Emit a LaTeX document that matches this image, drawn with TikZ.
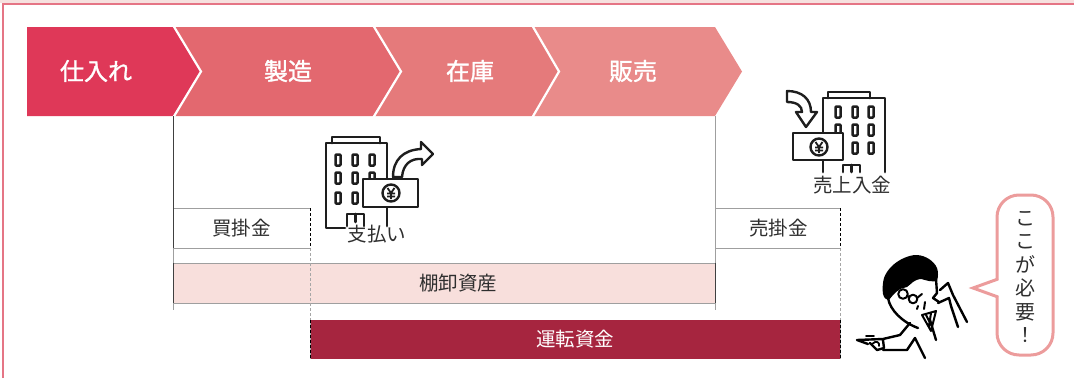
\documentclass[tikz,border=0pt]{standalone}
\usepackage{fontspec}
\newfontfamily\jp{Noto Sans CJK JP}
\newfontfamily\jpb{Noto Sans CJK JP}[FakeBold=1.3]
\definecolor{stageA}{HTML}{DF3858}
\definecolor{stageB}{HTML}{E3686F}
\definecolor{stageC}{HTML}{E57A7B}
\definecolor{stageD}{HTML}{E98B8A}
\definecolor{invfill}{HTML}{F8DFDC}
\definecolor{capital}{HTML}{A6253F}
\definecolor{bubble}{HTML}{EC9C9C}
\definecolor{frame}{HTML}{E57585}
\definecolor{framebg}{HTML}{F6E1DF}
\definecolor{ink}{HTML}{1E1E1E}
\definecolor{txt}{HTML}{2E2E2E}
\begin{document}
\begin{tikzpicture}[x=1pt,y=-1pt,
  stagelbl/.style={font=\jpb\fontsize{24}{28}\selectfont, text=white, inner sep=0pt},
  lbl/.style={font=\jp\fontsize{19.5}{22}\selectfont, text=txt, inner sep=0pt},
  barbox/.style={inner sep=0pt, outer sep=0pt},
  edge/.style={draw=gray!75, line width=1pt},
  darkedge/.style={draw=black!75, line width=1pt},
  dashedge/.style={draw=gray!70, line width=1pt, dashed, dash pattern=on 3pt off 2pt},
  darkdash/.style={draw=black, line width=1pt, dash pattern=on 3pt off 2pt},
  icon/.style={draw=ink, line width=2.8pt, line join=round, line cap=round},
  win/.style={draw=ink, line width=2.5pt, rounded corners=0.8pt},
  fig/.style={draw=black, line width=2.4pt, line cap=round, line join=round}]
\useasboundingbox (0,0) rectangle (1074,378);

% frame
\fill[framebg] (0,0) rectangle (1074,3);
\draw[frame, line width=1.5pt] (3,378) -- (3,4) -- (1074,4);

% process chevrons
\fill[stageA] (27,27) -- (173,27) -- (201,71.5) -- (173,116) -- (27,116) -- cycle;
\fill[stageB] (173,27) -- (373,27) -- (401,71.5) -- (373,116) -- (173,116) -- (201,71.5) -- cycle;
\fill[stageC] (373,27) -- (532,27) -- (559,71.5) -- (532,116) -- (373,116) -- (401,71.5) -- cycle;
\fill[stageD] (532,27) -- (715,27) -- (742,71.5) -- (715,116) -- (532,116) -- (559,71.5) -- cycle;
\draw[white, line width=2.2pt] (173,25) -- (201,71.5) -- (173,118);
\draw[white, line width=2.2pt] (373,25) -- (401,71.5) -- (373,118);
\draw[white, line width=2.2pt] (532,25) -- (559,71.5) -- (532,118);

\node[stagelbl] (shiire) at (96,71) {仕入れ};
\node[stagelbl] (seizo) at (288,71) {製造};
\node[stagelbl] (zaiko) at (470,71) {在庫};
\node[stagelbl] (hanbai) at (633,71) {販売};

% guide coordinates
\coordinate (g1top) at (173,116);
\coordinate (g1bot) at (173,310);
\coordinate (g2top) at (715,116);
\coordinate (g2bot) at (715,310);
\coordinate (d1top) at (310,208);
\coordinate (d1bot) at (310,359);
\coordinate (d2top) at (840.5,208);
\coordinate (d2bot) at (840.5,359);

% inventory bar
\node[barbox, fill=invfill, minimum width=542pt, minimum height=40pt,
      label={[lbl, xshift=14pt]center:棚卸資産}] (tana) at (444,283) {};
\draw[edge] (tana.north west) -- (tana.north east);
\draw[edge] (tana.south west) -- (tana.south east);

% working capital bar
\node[barbox, fill=capital, minimum width=530pt, minimum height=39pt,
      font=\jp\fontsize{19.5}{22}\selectfont, text=white] (unten) at (575.25,339.5) {運転資金};

% payables / receivables boxes
\node[barbox, fill=white, minimum width=137pt, minimum height=40pt, lbl] (kai) at (241.5,228) {買掛金};
\node[barbox, fill=white, minimum width=124.5pt, minimum height=40pt, lbl] (uri) at (778.25,228) {売掛金};
\draw[edge] (kai.north west) -- (kai.north east);
\draw[edge] (kai.south west) -- (kai.south east);
\draw[edge] (uri.north west) -- (uri.north east);
\draw[edge] (uri.south west) -- (uri.south east);

% vertical guides
\draw[edge] (g1top) -- (g1bot);
\draw[darkedge] (g1top) -- (kai.north west);
\draw[darkedge] (kai.north west) -- (kai.south west);
\draw[darkedge] (tana.north west) -- (tana.south west);
\draw[edge] (g2top) -- (g2bot);
\draw[darkedge] (tana.north east) -- (tana.south east);
\draw[dashedge] (d1top) -- (d1bot);
\draw[dashedge] (d2top) -- (d2bot);
\draw[darkdash] (kai.north east) -- (kai.south east);
\draw[darkdash] (uri.north east) -- (uri.south east);
\draw[darkdash] (unten.north west) -- (unten.south west);
\draw[darkdash] (unten.north east) -- (unten.south east);

% payment icon: building, bill and outgoing arrow
\draw[icon] (332,143) -- (332,137) -- (380,137) -- (380,143);
\draw[icon] (345,228) -- (326,228) -- (326,143) -- (387,143) -- (387,226);
\foreach \cx in {338,355,372}
  \foreach \cy in {160,178,198}
    \draw[win] (\cx-2.5,\cy-5.5) rectangle (\cx+2.5,\cy+5.5);
\draw[icon] (347,226) -- (347,214) -- (364,214) -- (364,226);
\draw[icon] (355.5,214) -- (355.5,222);
\draw[icon, fill=white] (363,179) rectangle (418,207);
\draw[icon, line width=2.4pt] (391,193) circle (8.5);
\draw[ink, line width=1.8pt] (387.5,188) -- (391,193) -- (394.5,188)
  (391,193) -- (391,199) (387,193.5) -- (395,193.5) (387,196.5) -- (395,196.5);
\draw[icon, line width=2.4pt, fill=white] (393,177) .. controls (393,160) and (403,150) .. (421,149)
  -- (421,142) -- (433,154) -- (422,165) -- (422,159)
  .. controls (410,158) and (403,165) .. (402,177) -- cycle;
\node[lbl] (shiharai) at (377,234) {支払い};

% receipt icon: building, bill and incoming arrow
\draw[icon] (828,98) -- (828,92) -- (870,92) -- (870,98);
\draw[icon] (823,172) -- (823,98) -- (885,98) -- (885,172);
\foreach \cx in {838,855,871}
  \foreach \cy in {112,130,148}
    \draw[win] (\cx-2.5,\cy-5.5) rectangle (\cx+2.5,\cy+5.5);
\draw[icon] (843,172) -- (843,165) -- (860,165) -- (860,172);
\draw[icon] (851.5,165) -- (851.5,172);
\draw[icon, fill=white] (793,133) rectangle (843,160);
\draw[icon, line width=2.4pt] (819,147) circle (8.5);
\draw[ink, line width=1.8pt] (815.5,142) -- (819,147) -- (822.5,142)
  (819,147) -- (819,153) (815,147.5) -- (823,147.5) (815,150.5) -- (823,150.5);
\draw[icon, line width=2.4pt, fill=white] (787,91) .. controls (802,91) and (811,99) .. (811,112)
  -- (817,112) -- (806,127) -- (796,112) -- (802,112)
  .. controls (802,106) and (797,102) .. (787,102) -- cycle;
\node[lbl] (nyukin) at (852,185) {売上入金};

% pointing man
\fill[black] plot[smooth cycle, tension=0.6] coordinates {
  (883,294) (884,278) (892,266) (904,258) (917,255) (929,259) (937,268)
  (937,280) (929,281) (920,279) (913,282) (907,287) (900,289) (893,295) (888,300)};
\draw[fig] (888,298) .. controls (890,310) and (902,322) .. (918,328);
\draw[fig, line width=2pt] (903,294) circle (4.8) (913,299) circle (4.3);
\draw[fig, line width=2pt] (907.5,296) -- (909,297) (917,298) -- (922,294);
\draw[fig, line width=2pt] (925,302) -- (924,309) (918,306) -- (917,309);
\draw[fig] (936,279) -- (937,293) -- (933,298) -- (939,302);
\draw[fig, line width=2pt] (922,315) -- (936,311) -- (931,331) -- cycle
  (926,315) -- (931,325) (931,313) -- (929,326);
\draw[fig] (940,290) -- (948,283) -- (953,295) -- (967,322);
\draw[fig] (938,303) -- (949,298) -- (951,306) -- (958,327);
\draw[fig] (930,320) -- (936,340);
\draw[fig] (910,323) -- (900,335) -- (883,339) -- (857,340) -- (868,344)
  (870,343) -- (877,350) -- (884,348) -- (883,340);
\draw[fig] (883,350) -- (907,350) -- (915,338) -- (925,358);
\draw[fig, line width=1.8pt] (866,336) -- (874,336) (872,344) .. controls (876,340) and (880,342) .. (879,346);

% speech bubble
\draw[bubble, line width=3pt, fill=white, rounded corners=22pt] (997,195) rectangle (1053,355);
\fill[white] (994,280) rectangle (999.5,296);
\draw[bubble, line width=3pt, line join=miter] (998,279) -- (973,288) -- (998,297);
\node[font=\jp\fontsize{20}{23.5}\selectfont, text=txt, align=center, inner sep=0pt] (koko) at (1025,277)
  {こ\\こ\\が\\必\\要\\！};
\end{tikzpicture}
\end{document}
